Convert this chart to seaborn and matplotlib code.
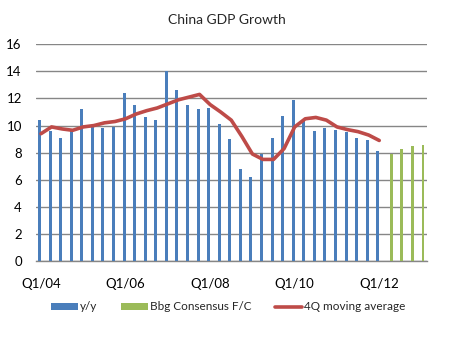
import matplotlib
matplotlib.use("Agg")
import matplotlib.pyplot as plt
from matplotlib.lines import Line2D
from matplotlib.patches import Patch
import numpy as np
import pandas as pd
import seaborn as sns

# Quarterly labels Q1/04 .. Q1/13
years = ["04", "05", "06", "07", "08", "09", "10", "11", "12", "13"]
quarters = [f"Q{q}/{y}" for y in years for q in range(1, 5)][:37]

# Year-on-year real GDP growth, Q1/04 .. Q1/12
yoy = [10.4, 9.6, 9.1, 9.6, 11.2, 10.0, 9.8, 9.9,
       12.4, 11.5, 10.6, 10.4, 14.0, 12.6, 11.5, 11.2,
       11.3, 10.1, 9.0, 6.8, 6.2, 7.9, 9.1, 10.7,
       11.9, 10.3, 9.6, 9.8, 9.7, 9.5, 9.1, 8.9, 8.1]

# Bloomberg consensus forecasts, Q2/12 .. Q1/13
forecast = [7.9, 8.3, 8.5, 8.6]

# Four-quarter moving average, Q1/04 .. Q1/12
moving_avg = [9.4, 9.9, 9.75, 9.65, 9.9, 10.0, 10.2, 10.3,
              10.5, 10.85, 11.1, 11.3, 11.6, 11.9, 12.1, 12.3,
              11.55, 11.0, 10.4, 9.2, 7.9, 7.5, 7.5, 8.3,
              9.9, 10.5, 10.6, 10.4, 9.9, 9.7, 9.55, 9.3, 8.9]

tick_labels = ["Q1/04", "Q1/06", "Q1/08", "Q1/10", "Q1/12"]

BLUE = "#4A7EBB"
GREEN = "#9BBB59"
RED = "#BE4B48"
GRID = "#868686"

n_hist = len(yoy)
bars = pd.DataFrame({
    "quarter": quarters[:n_hist] + quarters[n_hist:n_hist + len(forecast)],
    "value": yoy + forecast,
    "series": ["y/y"] * n_hist + ["Bbg Consensus F/C"] * len(forecast),
})
bars["quarter"] = pd.Categorical(bars["quarter"], categories=quarters, ordered=True)

line = pd.DataFrame({"pos": np.arange(len(moving_avg)), "value": moving_avg})

sns.set_style("white")
plt.rcParams["font.family"] = ["Lato", "DejaVu Sans"]

W, H = 454, 340
fig = plt.figure(figsize=(W / 100, H / 100), dpi=100)
x0, x1, y0, y1 = 35.7, 426.8, 44.3, 261.0
ax = fig.add_axes([x0 / W, 1 - y1 / H, (x1 - x0) / W, (y1 - y0) / H])

sns.barplot(data=bars, x="quarter", y="value", hue="series",
            hue_order=["y/y", "Bbg Consensus F/C"],
            palette=[BLUE, GREEN], width=0.56, dodge=True,
            saturation=1, linewidth=0, legend=False, ax=ax, zorder=3)

sns.lineplot(data=line, x="pos", y="value", color=RED, linewidth=2.6,
             solid_joinstyle="round", solid_capstyle="round",
             legend=False, ax=ax, zorder=4)

ax.set_xlim(-0.5, len(quarters) - 0.5)
ax.set_ylim(0, 16)
ax.set_yticks(np.arange(0, 17, 2))
ax.yaxis.grid(True, color=GRID, linewidth=1.0, zorder=0)
ax.set_axisbelow(True)

ax.set_xticks([quarters.index(t) for t in tick_labels])
ax.set_xticklabels(tick_labels)
ax.set_xticks(np.arange(-0.5, len(quarters) - 1, 4), minor=True)
ax.tick_params(axis="x", which="major", length=0, pad=12, labelsize=9.5, colors="black")
ax.tick_params(axis="x", which="minor", length=8, width=1, direction="inout", color=GRID)
ax.tick_params(axis="y", length=0, pad=10, labelsize=9.5, colors="black")
ax.set_xlabel("")
ax.set_ylabel("")

for side in ["top", "right", "left"]:
    ax.spines[side].set_visible(False)
ax.spines["bottom"].set_color(GRID)
ax.spines["bottom"].set_linewidth(1.0)

fig.text(227 / W, 1 - 20 / H, "China GDP Growth", ha="center", va="center", fontsize=10)

handles = [
    Patch(facecolor=BLUE, edgecolor="none"),
    Patch(facecolor=GREEN, edgecolor="none"),
    Line2D([0], [0], color=RED, linewidth=2.6),
]
fig.legend(handles, ["y/y", "Bbg Consensus F/C", "4Q moving average"],
           loc="center", bbox_to_anchor=(228 / W, 1 - 307 / H), ncol=3,
           frameon=False, fontsize=8.5, handlelength=2.3, handleheight=0.6,
           handletextpad=0.15, columnspacing=2.0)

fig.savefig("out.png", dpi=100)
